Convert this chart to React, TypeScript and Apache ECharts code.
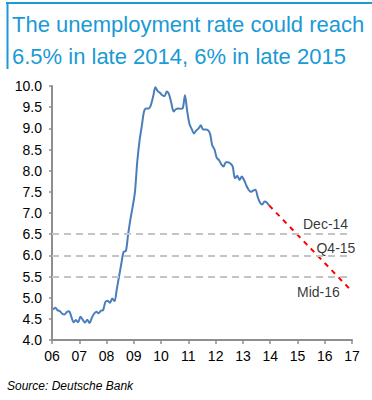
import React, { useEffect, useRef } from "react";
import * as echarts from "echarts";

const titleText = "The unemployment rate could reach\n6.5% in late 2014, 6% in late 2015";
const sourceText = "Source: Deutsche Bank";

const startYear = 2006;
const rate2006 = [4.72, 4.76, 4.70, 4.68, 4.62, 4.60, 4.66, 4.68, 4.55, 4.42, 4.47, 4.42];
const rate2007 = [4.55, 4.48, 4.41, 4.48, 4.40, 4.52, 4.62, 4.67, 4.63, 4.69, 4.71, 4.90];
const rate2008 = [4.93, 4.88, 4.98, 4.92, 5.20, 5.50, 5.80, 6.08, 6.10, 6.50, 6.85, 7.15];
const rate2009 = [7.50, 8.20, 8.70, 9.05, 9.40, 9.47, 9.47, 9.55, 9.75, 9.97, 9.88, 9.84];
const rate2010 = [9.78, 9.76, 9.87, 9.80, 9.60, 9.40, 9.45, 9.47, 9.46, 9.47, 9.78, 9.40];
const rate2011 = [9.10, 8.98, 8.88, 8.95, 9.00, 9.07, 8.97, 8.97, 8.96, 8.88, 8.60, 8.50];
const rate2012 = [8.30, 8.25, 8.15, 8.10, 8.20, 8.20, 8.17, 8.10, 7.82, 7.88, 7.78, 7.86];
const rate2013 = [7.78, 7.65, 7.55, 7.50, 7.53, 7.55, 7.38, 7.25, 7.20, 7.27, 7.25, 7.18];

const forecastX = [2013.96, 2017.0];
const forecastY = [7.18, 5.15];

const targetLevels = [6.5, 6.0, 5.5];
const annotationLabels = ["Dec-14", "Q4-15", "Mid-16"];
const annotationX = [2016.03, 2016.41, 2015.77];
const annotationY = [6.74, 6.18, 5.14];

const yTicks = ["4.0", "4.5", "5.0", "5.5", "6.0", "6.5", "7.0", "7.5", "8.0", "8.5", "9.0", "9.5", "10.0"];
const xTickLabels = ["06", "07", "08", "09", "10", "11", "12", "13", "14", "15", "16", "17"];

const monthly = [rate2006, rate2007, rate2008, rate2009, rate2010, rate2011, rate2012, rate2013].flat();
const actualData = monthly.map((v, i) => [startYear + (i + 0.5) / 12, v]);
const forecastData = forecastX.map((x, i) => [x, forecastY[i]]);
const annotationData = annotationLabels.map((l, i) => ({ value: [annotationX[i], annotationY[i]], name: l }));

const FONT = "'Liberation Sans', Arial, sans-serif";
const BLUE_TITLE = "#1a9ad6";
const AXIS_GRAY = "#8f8f8f";

export default function App() {
  const ref = useRef<HTMLDivElement>(null);
  useEffect(() => {
    if (!ref.current) return;
    const chart = echarts.init(ref.current, null, { renderer: "svg" });
    chart.setOption({
      animation: false,
      backgroundColor: "#ffffff",
      title: {
        text: titleText,
        left: 12,
        top: 8,
        padding: 0,
        textStyle: {
          fontFamily: FONT,
          fontSize: 22,
          fontWeight: "normal",
          color: BLUE_TITLE,
          lineHeight: 32,
        },
      },
      grid: { left: 52, right: 20, top: 86, bottom: 60, containLabel: false },
      xAxis: {
        type: "value",
        min: 2006,
        max: 2017,
        interval: 1,
        axisLine: { lineStyle: { color: AXIS_GRAY, width: 2 } },
        axisTick: { show: true, length: 4, lineStyle: { color: AXIS_GRAY, width: 1.5 } },
        splitLine: { show: false },
        axisLabel: {
          margin: 9,
          fontFamily: FONT,
          fontSize: 14,
          color: "#000",
          formatter: (v: number) => xTickLabels[Math.round(v - 2006)] ?? "",
        },
      },
      yAxis: {
        type: "value",
        min: 4,
        max: 10,
        interval: 0.5,
        axisLine: { show: true, lineStyle: { color: AXIS_GRAY, width: 2 } },
        axisTick: { show: true, length: 3, lineStyle: { color: AXIS_GRAY, width: 1.5 } },
        splitLine: { show: false },
        axisLabel: {
          margin: 10,
          fontFamily: FONT,
          fontSize: 14,
          color: "#000",
          formatter: (v: number) => yTicks[Math.round((v - 4) * 2)] ?? "",
        },
      },
      series: [
        {
          type: "line",
          name: "Unemployment rate",
          data: actualData,
          showSymbol: false,
          smooth: 0.3,
          lineStyle: { color: "#4a7ebb", width: 2 },
          z: 3,
          markLine: {
            silent: true,
            symbol: "none",
            label: { show: false },
            lineStyle: { color: "#c4c4c4", width: 2, type: [7, 5] },
            data: targetLevels.map((v) => ({ yAxis: v })),
          },
        },
        {
          type: "line",
          name: "Forecast",
          data: forecastData,
          showSymbol: false,
          lineStyle: { color: "#ff0000", width: 2, type: [5, 5] },
          z: 4,
        },
        {
          type: "scatter",
          name: "Labels",
          data: annotationData,
          symbolSize: 0,
          label: {
            show: true,
            position: "inside",
            formatter: (p: any) => p.name,
            fontFamily: FONT,
            fontSize: 14,
            color: "#000",
          },
          z: 5,
        },
      ],
      graphic: [
        { type: "line", shape: { x1: 6, y1: 3, x2: 372, y2: 3 }, style: { stroke: BLUE_TITLE, lineWidth: 2 } },
        { type: "line", shape: { x1: 7.5, y1: 2, x2: 7.5, y2: 69 }, style: { stroke: BLUE_TITLE, lineWidth: 2 } },
        {
          type: "text",
          left: 7,
          top: 380,
          style: {
            text: sourceText,
            fontFamily: FONT,
            fontSize: 12,
            fontStyle: "italic",
            fill: "#000",
          },
        },
      ],
    });
    return () => chart.dispose();
  }, []);
  return <div ref={ref} style={{ width: 372, height: 400, position: "absolute", left: 0, top: 0 }} />;
}
